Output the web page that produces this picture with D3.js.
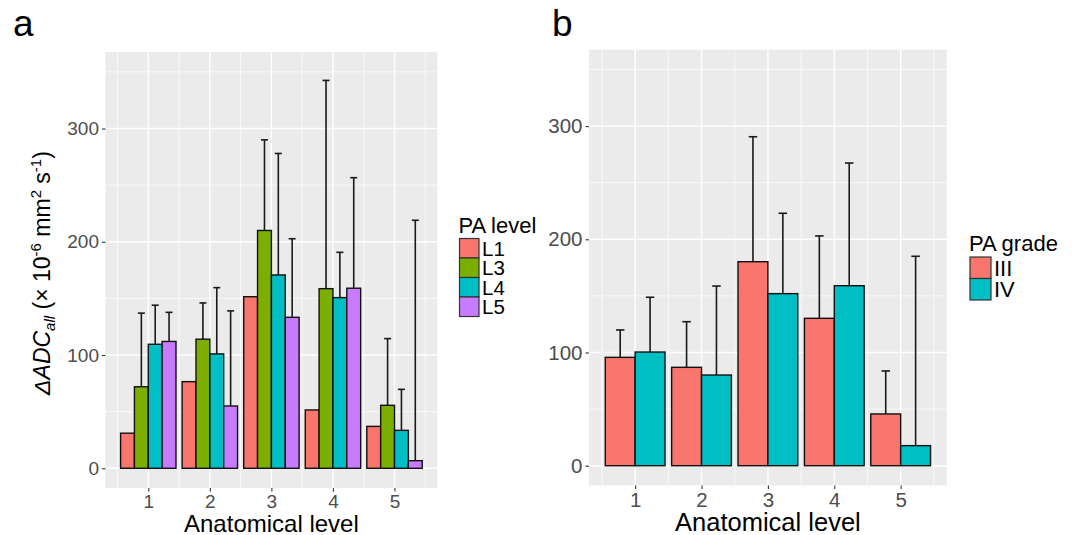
<!DOCTYPE html>
<html>
<head>
<meta charset="utf-8">
<script src="https://cdn.jsdelivr.net/npm/d3@7"></script>
<style>
	body { margin: 0; background: #fff; }
	svg { font-family: 'Liberation Sans', Arial, sans-serif; }
</style>
</head>
<body>
<svg id="chart" width="1077" height="535"></svg>
<script>
// data
const levels = [1, 2, 3, 4, 5];
const yTicks = [0, 100, 200, 300];

// panel a: PA level
const paLevels = ['L1', 'L3', 'L4', 'L5'];
const paColors = ['#F8766D', '#7CAE00', '#00BFC4', '#C77CFF'];
const meanL1 = [31, 76.5, 151.5, 51.5, 37];
const meanL3 = [72, 114, 210, 158.6, 55.6];
const meanL4 = [109.5, 101, 170.7, 150.7, 33.5];
const meanL5 = [112, 55, 133.3, 159, 6.7];
const upperL1 = [null, null, null, null, null];
const upperL3 = [137, 146, 290, 342.5, 114.5];
const upperL4 = [144, 159.5, 278, 190.7, 69.7];
const upperL5 = [137.7, 139, 202.7, 256.6, 219];

// panel b: PA grade
const paGrades = ['III', 'IV'];
const gradeColors = ['#F8766D', '#00BFC4'];
const meanIII = [95.7, 86.9, 180.2, 130.2, 45.7];
const meanIV = [100.4, 80.1, 152, 159, 17.7];
const upperIII = [119.9, 127.2, 290.6, 203, 83.7];
const upperIV = [148.8, 158.7, 223, 267.4, 185];

const svg = d3.select('#chart');

const build = (means, uppers) => {
	let out = [];
	levels.forEach((lv, i) => {
		means.forEach((m, s) => {
			out.push({level: lv, series: s, value: m[i], upper: uppers[s][i]});
		});
	});
	return out;
}

const panel = (cfg) => {
	const x = d3.scaleLinear().domain([0.305, 5.695]).range([cfg.left, cfg.right]);
	const y = d3.scaleLinear().domain([-17.5, 367.5]).range([cfg.bottom, cfg.top]);
	const g = svg.append('g');

	g.append('rect')
		.attr('x', cfg.left).attr('y', cfg.top)
		.attr('width', cfg.right - cfg.left).attr('height', cfg.bottom - cfg.top)
		.attr('fill', '#EBEBEB');

	// minor grid
	g.selectAll('.minorY').data([50, 150, 250, 350]).enter().append('line')
		.attr('x1', cfg.left).attr('x2', cfg.right)
		.attr('y1', d => y(d)).attr('y2', d => y(d))
		.attr('stroke', '#fff').attr('stroke-width', 0.7);
	g.selectAll('.minorX').data([0.5, 1.5, 2.5, 3.5, 4.5, 5.5]).enter().append('line')
		.attr('y1', cfg.top).attr('y2', cfg.bottom)
		.attr('x1', d => x(d)).attr('x2', d => x(d))
		.attr('stroke', '#fff').attr('stroke-width', 0.7);
	// major grid
	g.selectAll('.majorY').data(yTicks).enter().append('line')
		.attr('x1', cfg.left).attr('x2', cfg.right)
		.attr('y1', d => y(d)).attr('y2', d => y(d))
		.attr('stroke', '#fff').attr('stroke-width', 1.4);
	g.selectAll('.majorX').data(levels).enter().append('line')
		.attr('y1', cfg.top).attr('y2', cfg.bottom)
		.attr('x1', d => x(d)).attr('x2', d => x(d))
		.attr('stroke', '#fff').attr('stroke-width', 1.4);

	const n = cfg.means.length;
	const bw = 0.9 / n;
	const data = build(cfg.means, cfg.uppers);
	const cx = d => d.level - 0.45 + bw * (d.series + 0.5);

	// error bars (upper only)
	const eb = data.filter(d => d.upper != null);
	g.selectAll('.err').data(eb).enter().append('line')
		.attr('x1', d => x(cx(d))).attr('x2', d => x(cx(d)))
		.attr('y1', d => y(d.upper)).attr('y2', d => y(d.value))
		.attr('stroke', '#1a1a1a').attr('stroke-width', 1.6);
	g.selectAll('.cap').data(eb).enter().append('line')
		.attr('x1', d => x(cx(d)) - cfg.cap / 2).attr('x2', d => x(cx(d)) + cfg.cap / 2)
		.attr('y1', d => y(d.upper)).attr('y2', d => y(d.upper))
		.attr('stroke', '#1a1a1a').attr('stroke-width', 1.6);

	g.selectAll('.bar').data(data).enter().append('rect')
		.attr('x', d => x(d.level - 0.45 + bw * d.series))
		.attr('width', x(bw) - x(0))
		.attr('y', d => y(d.value))
		.attr('height', d => y(0) - y(d.value))
		.attr('fill', d => cfg.colors[d.series])
		.attr('stroke', '#111').attr('stroke-width', 1.4);

	// axes
	const ay = g.append('g')
		.attr('transform', `translate(${cfg.left},0)`)
		.call(d3.axisLeft(y).tickValues(yTicks).tickSize(3.5).tickPadding(3));
	ay.select('.domain').remove();
	ay.selectAll('line').attr('stroke', '#333').attr('stroke-width', 1.1);
	ay.selectAll('text').attr('fill', '#4D4D4D').attr('font-size', cfg.tickFont)
		.attr('font-family', 'Liberation Sans, Arial, sans-serif');

	const ax = g.append('g')
		.attr('transform', `translate(0,${cfg.bottom})`)
		.call(d3.axisBottom(x).tickValues(levels).tickFormat(d3.format('d')).tickSize(3.5).tickPadding(3));
	ax.select('.domain').remove();
	ax.selectAll('line').attr('stroke', '#333').attr('stroke-width', 1.1);
	ax.selectAll('text').attr('fill', '#4D4D4D').attr('font-size', cfg.tickFont)
		.attr('font-family', 'Liberation Sans, Arial, sans-serif');

	g.append('text')
		.text('Anatomical level')
		.attr('x', (cfg.left + cfg.right) / 2)
		.attr('y', cfg.titleY)
		.attr('text-anchor', 'middle')
		.attr('font-size', cfg.titleFont)
		.attr('fill', '#000');

	g.append('text')
		.text(cfg.letter)
		.attr('x', cfg.letterX).attr('y', 36)
		.attr('font-size', 37)
		.attr('fill', '#000');

	// legend
	const lg = g.append('g');
	lg.append('text')
		.text(cfg.legendTitle)
		.attr('x', cfg.legX - 1).attr('y', cfg.legY - 6)
		.attr('font-size', 22);
	cfg.keys.forEach((k, i) => {
		lg.append('rect')
			.attr('x', cfg.legX).attr('y', cfg.legY + i * cfg.keyH)
			.attr('width', cfg.keyW).attr('height', cfg.keyH)
			.attr('fill', cfg.colors[i])
			.attr('stroke', '#333').attr('stroke-width', 1.2);
		lg.append('text')
			.text(k)
			.attr('x', cfg.legX + cfg.keyW + 3)
			.attr('y', cfg.legY + i * cfg.keyH + cfg.keyH / 2)
			.attr('dy', '0.36em')
			.attr('font-size', cfg.keyFont);
	});
}

panel({
	left: 105.5, right: 437.3, top: 52.1, bottom: 488.1,
	means: [meanL1, meanL3, meanL4, meanL5],
	uppers: [upperL1, upperL3, upperL4, upperL5],
	colors: paColors, keys: paLevels, legendTitle: 'PA level',
	cap: 7, tickFont: 19, titleFont: 24, titleY: 531.5,
	letter: 'a', letterX: 13,
	legX: 459.5, legY: 238.5, keyW: 19.5, keyH: 19.5, keyFont: 20.5
});

panel({
	left: 589, right: 946.8, top: 49.7, bottom: 485.5,
	means: [meanIII, meanIV],
	uppers: [upperIII, upperIV],
	colors: gradeColors, keys: paGrades, legendTitle: 'PA grade',
	cap: 8.5, tickFont: 20.5, titleFont: 25.5, titleY: 531,
	letter: 'b', letterX: 552,
	legX: 970, legY: 257, keyW: 21, keyH: 21.5, keyFont: 22
});

// y axis title, panel a
const yt = svg.append('text')
	.attr('transform', 'translate(50,273) rotate(-90)')
	.attr('text-anchor', 'middle')
	.attr('font-size', 23)
	.attr('fill', '#000');
yt.append('tspan').attr('font-style', 'italic').text('ΔADC');
yt.append('tspan').attr('font-style', 'italic').attr('font-size', 15).attr('dy', 5).text('all');
yt.append('tspan').attr('dy', -5).text(' (× 10');
yt.append('tspan').attr('font-size', 15).attr('dy', -9).text('-6');
yt.append('tspan').attr('dy', 9).text(' mm');
yt.append('tspan').attr('font-size', 15).attr('dy', -9).text('2');
yt.append('tspan').attr('dy', 9).text(' s');
yt.append('tspan').attr('font-size', 15).attr('dy', -9).text('-1');
yt.append('tspan').attr('dy', 9).text(')');
</script>
</body>
</html>
